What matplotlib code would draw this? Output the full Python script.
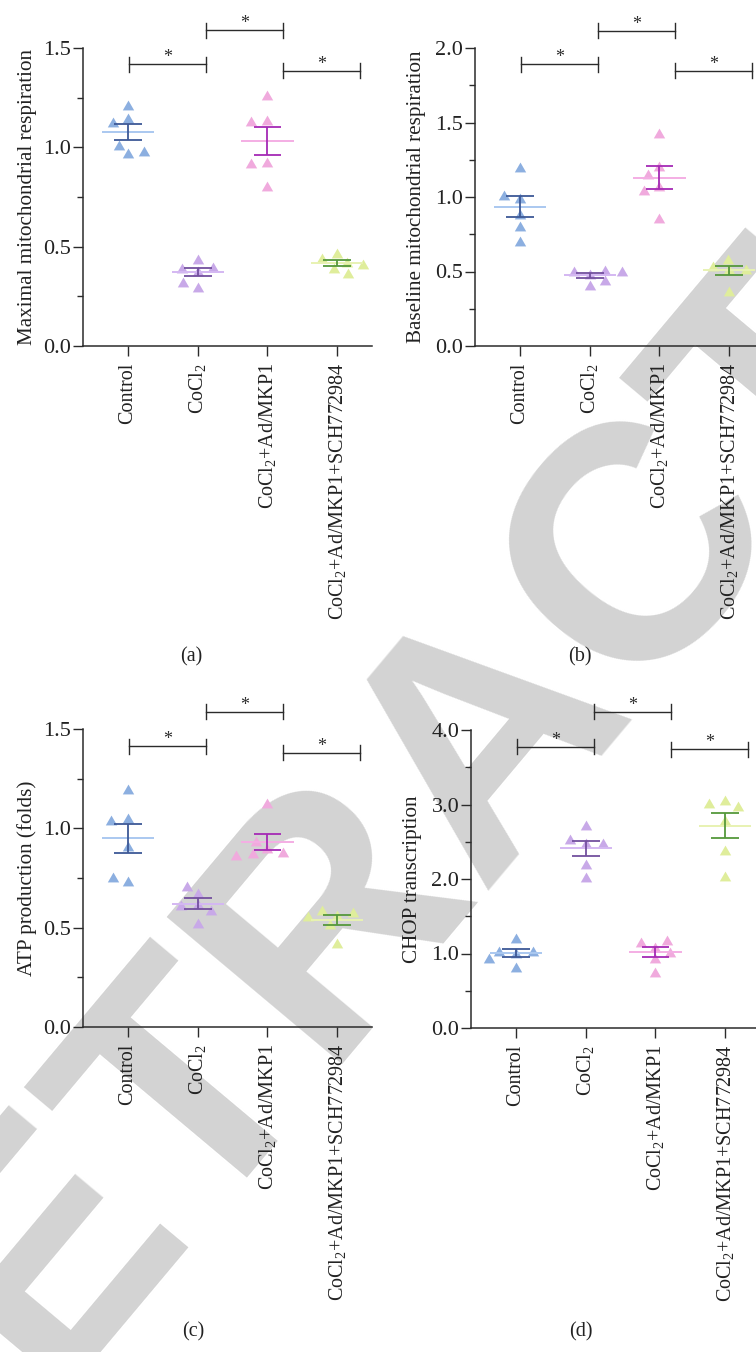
import numpy as np
import matplotlib
matplotlib.use("Agg")
import matplotlib.pyplot as plt
from matplotlib.ticker import MultipleLocator, FormatStrFormatter

plt.rcParams['font.family'] = ['Liberation Serif', 'DejaVu Serif']
plt.rcParams['mathtext.default'] = 'regular'

# group names on the x axis
groups = ['Control', 'CoCl$_2$', 'CoCl$_2$+Ad/MKP1', 'CoCl$_2$+Ad/MKP1+SCH772984']

# (a) maximal mitochondrial respiration
max_resp = [
    [1.211, 1.148, 1.127, 0.970, 1.013, 0.983],
    [0.376, 0.393, 0.438, 0.396, 0.299, 0.324],
    [1.262, 1.138, 1.132, 0.928, 0.922, 0.804],
    [0.466, 0.441, 0.424, 0.413, 0.391, 0.366],
]
# (b) baseline mitochondrial respiration
base_resp = [
    [1.201, 0.995, 1.013, 0.887, 0.805, 0.704],
    [0.480, 0.502, 0.509, 0.502, 0.408, 0.440],
    [1.431, 1.205, 1.156, 1.071, 1.044, 0.861],
    [0.514, 0.536, 0.581, 0.514, 0.543, 0.368],
]
# (c) ATP production (folds)
atp = [
    [1.196, 1.052, 1.042, 0.911, 0.735, 0.757],
    [0.620, 0.672, 0.711, 0.613, 0.588, 0.524],
    [1.126, 0.900, 0.938, 0.874, 0.879, 0.866],
    [0.562, 0.587, 0.579, 0.559, 0.517, 0.421],
]
# (d) CHOP transcription
chop = [
    [1.008, 1.205, 1.039, 1.039, 0.936, 0.824],
    [2.488, 2.721, 2.533, 2.488, 2.206, 2.027],
    [1.083, 1.150, 1.182, 1.020, 0.944, 0.747],
    [3.060, 3.020, 2.974, 2.791, 2.393, 2.044],
]

# significance bracket heights (left, middle, right)
sig_a = [1.419, 1.590, 1.386]
sig_b = [1.890, 2.116, 1.848]
sig_c = [1.413, 1.587, 1.381]
sig_d = [3.776, 4.246, 3.740]

dot_colors = ['#8cafe0', '#c8a9e8', '#f0aadd', '#dfed9b']
mean_colors = ['#aac8f0', '#d4b8f2', '#f4aee4', '#e8f2b2']
err_colors = ['#3d5896', '#73509e', '#a52ab5', '#55983c']
ink = '#2b2b2b'
FS = 14.5

W, H = 756, 1352
fig = plt.figure(figsize=(W / 100, H / 100), dpi=100)

# equilateral triangle marker
tri = [(-1, -0.866), (1, -0.866), (0, 0.866), (-1, -0.866)]


def swarm(vals, ypx, xpx, dx=17.0, dy=10.0):
    # simple beeswarm in pixel space, ellipse-shaped exclusion
    placed = []
    for v in vals:
        y = v * ypx
        spans = []
        for px, py in placed:
            d = abs(y - py)
            if d < dy:
                h = dx * np.sqrt(1 - (d / dy) ** 2)
                spans.append((px - h, px + h))
        cands = [0.0] + [a for a, b in spans] + [b for a, b in spans]
        cands.sort(key=lambda c: (round(abs(c), 6), c))
        for c in cands:
            if all(not (a + 1e-9 < c < b - 1e-9) for a, b in spans):
                break
        placed.append((c, y))
    return np.array([p[0] for p in placed]) / xpx


def panel(rect_px, data, ymax, major, minor, ylabel, sig, label_x):
    l, t, r, b = rect_px
    ax = fig.add_axes([l / W, 1 - b / H, (r - l) / W, (b - t) / H])
    ax.set_facecolor('none')
    ax.set_xlim(-0.646, 3.5)
    ax.set_ylim(0, ymax)
    ypx = (b - t) / ymax
    xpx = (r - l) / 4.146

    for i, vals in enumerate(data):
        vals = np.asarray(vals)
        off = swarm(vals, ypx, xpx)
        ax.plot(i + off, vals, linestyle='none', marker=tri, ms=8.2,
                color=dot_colors[i], mec='none', zorder=3)
        m = vals.mean()
        se = vals.std(ddof=1) / np.sqrt(len(vals))
        ax.hlines(m, i - 0.375, i + 0.375, color=mean_colors[i], lw=1.4, zorder=4)
        ax.vlines(i, m - se, m + se, color=err_colors[i], lw=1.3, zorder=5)
        ax.hlines([m - se, m + se], i - 0.2, i + 0.2, color=err_colors[i], lw=1.3, zorder=5)

    # brackets between neighbouring groups
    cap = 7.5 / ypx
    for k, yb in enumerate(sig):
        x0 = k * 1.105 + 0.01
        x1 = x0 + 1.105
        ax.plot([x0, x1], [yb, yb], color=ink, lw=1.0, clip_on=False)
        ax.plot([x0, x0], [yb - cap, yb + cap], color=ink, lw=1.0, clip_on=False)
        ax.plot([x1, x1], [yb - cap, yb + cap], color=ink, lw=1.0, clip_on=False)
        ax.annotate('*', ((x0 + x1) / 2, yb), xytext=(0, -1.5), textcoords='offset points',
                    ha='center', va='bottom', fontsize=13, color=ink, annotation_clip=False)

    for s in ['top', 'right']:
        ax.spines[s].set_visible(False)
    for s in ['left', 'bottom']:
        ax.spines[s].set_color(ink)
        ax.spines[s].set_linewidth(1.1)
    ax.yaxis.set_major_locator(MultipleLocator(major))
    ax.yaxis.set_minor_locator(MultipleLocator(minor))
    ax.yaxis.set_major_formatter(FormatStrFormatter('%.1f'))
    ax.set_xticks(range(4))
    ax.set_xticklabels(groups, rotation=90, va='top', ha='center')
    ax.tick_params(axis='both', which='major', length=7, width=1.0, color=ink,
                   labelsize=FS, labelcolor='#222222')
    ax.tick_params(axis='y', which='minor', length=4, width=1.0, color=ink)
    ax.tick_params(axis='y', which='major', pad=1.5, labelsize=16)
    ax.tick_params(axis='x', which='major', pad=5)
    ax.set_ylabel(ylabel, fontsize=15.2, color='#222222')
    ax.yaxis.set_label_coords(label_x, 0.5)
    return ax


panel((83, 48, 372, 346), max_resp, 1.5, 0.5, 0.25,
      'Maximal mitochondrial respiration', sig_a, -0.16)
panel((475, 48, 764, 346), base_resp, 2.0, 0.5, 0.25,
      'Baseline mitochondrial respiration', sig_b, -0.17)
panel((83, 729, 372, 1027), atp, 1.5, 0.5, 0.25,
      'ATP production (folds)', sig_c, -0.16)
panel((471, 730, 760, 1028), chop, 4.0, 1.0, 0.5,
      'CHOP transcription', sig_d, -0.17)

for txt, x, y in [('(a)', 191, 657), ('(b)', 580, 657), ('(c)', 193, 1332), ('(d)', 581, 1332)]:
    fig.text(x / W, 1 - y / H, txt, ha='center', va='center', fontsize=FS, color='#222222')

# watermark
fig.text(0.645, 0.459, 'RETRACTED', rotation=50, fontsize=240, color='#d3d3d3',
         fontweight='bold', family='Liberation Sans', ha='center', va='center',
         rotation_mode='anchor', zorder=-5)

fig.savefig('out.png', dpi=100)
